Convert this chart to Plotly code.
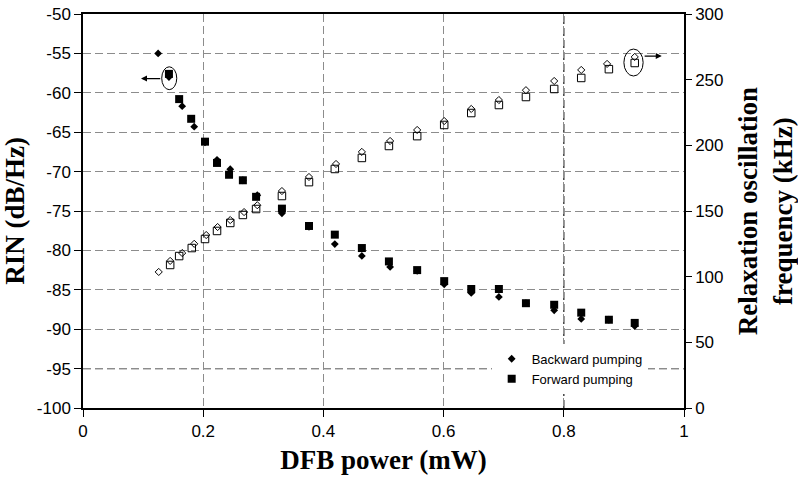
import plotly.graph_objects as go

# ---- data ----
x_back_rin = [0.125, 0.143, 0.165, 0.185, 0.203, 0.223, 0.245, 0.266, 0.290, 0.331, 0.376,
              0.419, 0.464, 0.511, 0.556, 0.601, 0.646, 0.692, 0.737, 0.784, 0.829, 0.875, 0.918]
rin_back = [-55.0, -58.0, -61.7, -64.3, -66.3, -68.5, -69.7, -71.1, -73.0, -75.3, -77.0,
            -79.2, -80.7, -82.1, -82.6, -84.3, -85.4, -85.9, -86.7, -87.6, -88.7, -88.8, -89.6]

x_fwd_rin = [0.143, 0.160, 0.180, 0.203, 0.223, 0.243, 0.266, 0.288, 0.331, 0.376,
             0.419, 0.464, 0.509, 0.556, 0.601, 0.646, 0.692, 0.737, 0.784, 0.829, 0.875, 0.918]
rin_fwd = [-57.6, -60.8, -63.3, -66.2, -68.9, -70.4, -71.1, -73.2, -74.7, -76.9,
           -78.0, -79.7, -81.4, -82.5, -83.9, -84.9, -84.9, -86.7, -86.9, -87.9, -88.8, -89.2]

x_back_f = [0.126, 0.145, 0.165, 0.185, 0.205, 0.224, 0.245, 0.268, 0.290, 0.331, 0.376,
            0.421, 0.464, 0.511, 0.556, 0.601, 0.646, 0.692, 0.737, 0.784, 0.829, 0.872, 0.918]
f_back = [103.6, 112.0, 118.0, 125.0, 131.7, 137.8, 143.1, 149.2, 154.4, 165.2, 175.9,
          185.8, 195.0, 203.3, 211.7, 218.5, 227.7, 234.5, 242.0, 249.0, 257.4, 262.0, 267.3]

x_fwd_f = [0.145, 0.160, 0.181, 0.203, 0.223, 0.245, 0.266, 0.288, 0.331, 0.376,
           0.419, 0.464, 0.509, 0.556, 0.601, 0.646, 0.692, 0.737, 0.784, 0.829, 0.875, 0.918]
f_fwd = [108.9, 115.7, 121.8, 128.7, 134.8, 140.9, 147.0, 151.5, 161.4, 172.0,
         182.0, 190.4, 199.5, 207.0, 215.5, 224.6, 230.7, 236.8, 242.9, 251.3, 258.0, 262.7]

x_ticks = [0, 0.2, 0.4, 0.6, 0.8, 1]
x_tick_labels = ["0", "0.2", "0.4", "0.6", "0.8", "1"]
rin_ticks = [-100, -95, -90, -85, -80, -75, -70, -65, -60, -55, -50]
rin_tick_labels = ["-100", "-95", "-90", "-85", "-80", "-75", "-70", "-65", "-60", "-55", "-50"]
f_ticks = [0, 50, 100, 150, 200, 250, 300]
f_tick_labels = ["0", "50", "100", "150", "200", "250", "300"]

# ---- styles ----
TICKFONT = dict(family="Liberation Sans, Arial", size=17, color="black")
TITLEFONT = dict(family="Liberation Serif, Times New Roman", size=27, color="black")
GRID = "#8c8c8c"

fig = go.Figure()

fig.add_trace(go.Scatter(x=x_back_f, y=f_back, yaxis="y2", mode="markers", showlegend=False,
                         marker=dict(symbol="diamond-open", size=5.5, color="black", line=dict(width=1))))
fig.add_trace(go.Scatter(x=x_fwd_f, y=f_fwd, yaxis="y2", mode="markers", showlegend=False,
                         marker=dict(symbol="square-open", size=7.5, color="black", line=dict(width=1))))
fig.add_trace(go.Scatter(x=x_back_rin, y=rin_back, mode="markers", name="Backward pumping",
                         marker=dict(symbol="diamond", size=6, color="black")))
fig.add_trace(go.Scatter(x=x_fwd_rin, y=rin_fwd, mode="markers", name="Forward pumping",
                         marker=dict(symbol="square", size=8, color="black")))

fig.update_layout(
    width=798, height=482,
    margin=dict(l=83, r=114, t=14, b=74),
    plot_bgcolor="white", paper_bgcolor="white",
    showlegend=True,
    legend=dict(x=0.68, y=0.163, xanchor="left", yanchor="top",
                bgcolor="white", borderwidth=0, tracegroupgap=0,
                font=dict(family="Liberation Sans, Arial", size=13, color="black")),
    xaxis=dict(range=[0, 1], tickvals=x_ticks, ticktext=x_tick_labels, automargin=False,
               showgrid=True, gridcolor=GRID, griddash="8px,4px", gridwidth=1,
               zeroline=False, showline=True, linecolor="black", linewidth=1.5, mirror=True,
               ticks="outside", ticklen=7, tickcolor="black",
               tickfont=TICKFONT,
               title=dict(text="<b>DFB power (mW)</b>", font=TITLEFONT, standoff=10)),
    yaxis=dict(range=[-100, -50], tickvals=rin_ticks, ticktext=rin_tick_labels, automargin=False,
               showgrid=True, gridcolor=GRID, griddash="8px,4px", gridwidth=1,
               zeroline=False, showline=True, linecolor="black", linewidth=1.5,
               ticks="outside", ticklen=7, tickcolor="black",
               tickfont=TICKFONT,
               title=dict(text="<b>RIN (dB/Hz)</b>", font=TITLEFONT, standoff=5)),
    yaxis2=dict(range=[0, 300], tickvals=f_ticks, ticktext=f_tick_labels, overlaying="y",
                side="right", anchor="x", automargin=False,
                showgrid=False, zeroline=False, showline=True, linecolor="black", linewidth=1.5,
                ticks="outside", ticklen=6, tickcolor="black",
                tickfont=TICKFONT,
                title=dict(text="<b>Relaxation oscillation<br>frequency (kHz)</b>",
                           font=TITLEFONT, standoff=24)),
    yaxis3=dict(range=[0, 300], tickvals=f_ticks, overlaying="y", side="right", anchor="x",
                showgrid=False, zeroline=False, showline=False, automargin=False,
                ticks="inside", ticklen=9, tickcolor="black", showticklabels=False),
)

# darker dashed lines seen in the reference
fig.add_shape(type="line", xref="paper", yref="y", x0=0, x1=1, y0=-95, y1=-95,
              line=dict(color="#333333", width=1.2, dash="8px,4px"), layer="below")
fig.add_shape(type="line", xref="x", yref="paper", x0=0.8, x1=0.8, y0=0, y1=1,
              line=dict(color="#444444", width=1.5, dash="8px,4px"), layer="below")

# ellipses + arrows marking which axis each curve uses
fig.add_shape(type="circle", xref="x", yref="y", x0=0.131, x1=0.156, y0=-59.6, y1=-56.7,
              line=dict(color="black", width=1))
fig.add_annotation(x=0.0965, y=-58.2, ax=0.131, ay=-58.2, xref="x", yref="y", axref="x", ayref="y",
                   text="", showarrow=True, arrowhead=2, arrowsize=1, arrowwidth=1.2, arrowcolor="black")
fig.add_shape(type="circle", xref="x", yref="y2", x0=0.900, x1=0.932, y0=252.8, y1=273.3,
              line=dict(color="black", width=1))
fig.add_annotation(x=0.963, y=268.0, ax=0.932, ay=268.0, xref="x", yref="y2", axref="x", ayref="y2",
                   text="", showarrow=True, arrowhead=2, arrowsize=1, arrowwidth=1.2, arrowcolor="black")

fig.write_html("out.html")
